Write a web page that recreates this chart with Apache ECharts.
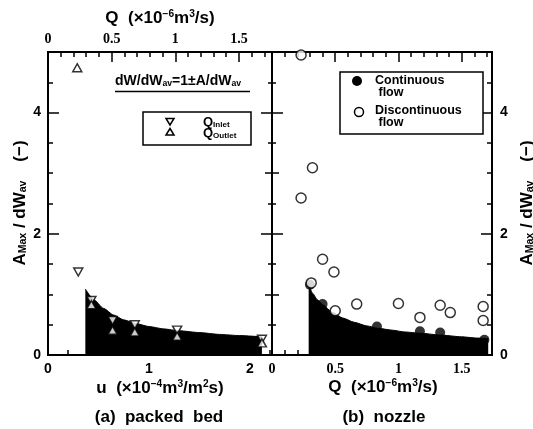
<!DOCTYPE html>
<html>
<head>
<meta charset="utf-8">
<script src="https://cdn.jsdelivr.net/npm/echarts@6/dist/echarts.min.js"></script>
<style>
html, body {margin: 0; padding: 0; background: #fff;}
#chart {width: 533px; height: 429px;}
</style>
</head>
<body>
<div id="chart"></div>
<script>
// (a) packed bed : u (x10^-4 m3/m2s) vs A_Max/dW_av
let uInlet = [0.30, 0.43, 0.64, 0.86, 1.28, 2.12];
let aInlet = [1.37, 0.90, 0.57, 0.50, 0.41, 0.26];
let uOutlet = [0.29, 0.43, 0.64, 0.86, 1.28, 2.12];
let aOutlet = [4.74, 0.83, 0.41, 0.38, 0.31, 0.20];
// black band (a), read along its upper edge
let uBand = [0.37, 0.45, 0.55, 0.65, 0.75, 0.87, 1.00, 1.15, 1.30, 1.50, 1.70, 1.90, 2.12];
let aBandA = [1.09, 0.92, 0.77, 0.66, 0.58, 0.52, 0.47, 0.43, 0.40, 0.37, 0.34, 0.32, 0.30];

// (b) nozzle : Q (x10^-6 m3/s) vs A_Max/dW_av
let qCont = [0.30, 0.40, 0.83, 1.17, 1.33, 1.68];
let aCont = [1.16, 0.84, 0.47, 0.39, 0.37, 0.25];
let qDisc = [0.23, 0.32, 0.23, 0.40, 0.49, 0.31, 0.50, 0.67, 1.00, 1.17, 1.33, 1.41, 1.67, 1.67];
let aDisc = [4.95, 3.09, 2.59, 1.58, 1.37, 1.19, 0.73, 0.84, 0.85, 0.62, 0.82, 0.70, 0.80, 0.57];
// black band (b)
let qBand = [0.29, 0.32, 0.36, 0.40, 0.48, 0.56, 0.65, 0.75, 0.84, 0.95, 1.05, 1.17, 1.33, 1.50, 1.62, 1.71];
let aBandB = [1.18, 1.02, 0.91, 0.83, 0.70, 0.61, 0.54, 0.48, 0.44, 0.41, 0.38, 0.36, 0.33, 0.30, 0.28, 0.27];

// tick labels
let uLabels = [0, 1, 2];
let qLabels = [0, 0.5, 1, 1.5];
let aLabels = [0, 2, 4];

let SANS = '"Liberation Sans", Arial, sans-serif';
let SERIF = '"Liberation Serif", "Times New Roman", serif';

let pairs = function (xs, ys) {
    return xs.map(function (x, i) { return [x, ys[i]]; });
};

// only print the values listed in "labels"
let pick = function (labels) {
    return function (v) {
        for (let i = 0; i < labels.length; i++) {
            if (Math.abs(v - labels[i]) < 1e-6) return String(labels[i]);
        }
        return '';
    };
};

let axis = function (grid, pos, max, step, len, labels, font, margin) {
    let a = {
        type: 'value', gridIndex: grid, position: pos,
        min: 0, max: max, interval: step,
        axisLine: {show: true, onZero: false, lineStyle: {color: '#000', width: 2}},
        axisTick: {show: true, inside: true, length: len, lineStyle: {color: '#000', width: 1.5}},
        splitLine: {show: false},
        axisLabel: {show: false}
    };
    if (labels) {
        a.axisLabel = {
            show: true, color: '#000', fontFamily: font, fontWeight: 'bold', fontSize: 14,
            margin: margin, showMaxLabel: false, formatter: pick(labels)
        };
    }
    return a;
};

let xAxes = [
    axis(0, 'bottom', 2.22, 1, 8, uLabels, SANS, 7),      // 0 u
    axis(0, 'bottom', 2.22, 0.2, 5),                       // 1
    axis(0, 'top', 1.76, 0.5, 10, qLabels, SERIF, 6),      // 2 Q top
    axis(0, 'top', 1.76, 0.1, 5),                          // 3
    axis(1, 'bottom', 1.74, 0.5, 8, qLabels, SERIF, 7),    // 4 Q
    axis(1, 'bottom', 1.74, 0.1, 5),                       // 5
    axis(1, 'top', 1.74, 0.5, 10),                         // 6
    axis(1, 'top', 1.74, 0.1, 5)                           // 7
];

let yAxes = [
    axis(0, 'left', 5, 2, 11, aLabels, SANS, 7),           // 0
    axis(0, 'left', 5, 0.5, 5),                            // 1
    axis(0, 'right', 5, 2, 11),                            // 2
    axis(0, 'right', 5, 1, 7),                             // 3
    axis(0, 'right', 5, 0.5, 4),                           // 4
    axis(1, 'left', 5, 2, 11),                             // 5
    axis(1, 'left', 5, 1, 7),                              // 6
    axis(1, 'left', 5, 0.5, 4),                            // 7
    axis(1, 'right', 5, 2, 11, aLabels, SANS, 8),          // 8
    axis(1, 'right', 5, 0.5, 5)                            // 9
];

let hollow = {color: '#fff', borderColor: '#000', borderWidth: 1.5};
let downTri = 'path://M0,0L10,0L5,9Z';

let band = function (xi, yi, data) {
    return {
        type: 'line', xAxisIndex: xi, yAxisIndex: yi, data: data,
        symbol: 'none', smooth: 0.2, smoothMonotone: 'x', z: 1,
        lineStyle: {color: '#000', width: 1},
        areaStyle: {color: '#000', opacity: 1}
    };
};

let t = function (x, y, text, size, extra) {
    let el = {
        type: 'text', x: x, y: y, z: 100,
        style: {
            text: text, fill: '#000', align: 'center', verticalAlign: 'middle',
            fontFamily: SANS, fontWeight: 'bold', fontSize: size,
            rich: {
                t: {fontFamily: SANS, fontWeight: 'bold', fontSize: size, fill: '#000'},
                sup: {fontFamily: SANS, fontWeight: 'bold', fontSize: size * 0.6, fill: '#000', verticalAlign: 'top'},
                sub: {fontFamily: SANS, fontWeight: 'bold', fontSize: size * 0.62, fill: '#000', verticalAlign: 'bottom'}
            }
        }
    };
    if (extra) Object.assign(el.style, extra);
    return el;
};

let qUnit = '{t|Q  (×10}{sup|−6}{t|m}{sup|3}{t|/s)}';
let yTitle = '{t|A}{sub|Max}{t| / dW}{sub|av}{t|    (−)}';
let edge = {fill: '#fff', stroke: '#000', lineWidth: 1.5};

let graphics = [
    t(160, 18, qUnit, 17),
    t(160, 388, '{t|u  (×10}{sup|−4}{t|m}{sup|3}{t|/m}{sup|2}{t|s)}', 17),
    t(159, 417, '(a)  packed  bed', 17),
    t(383, 387, qUnit, 17),
    t(384, 417, '(b)  nozzle', 17),
    Object.assign(t(20, 203, yTitle, 17), {rotation: Math.PI / 2}),
    Object.assign(t(527, 203, yTitle, 17), {rotation: Math.PI / 2}),
    // annotation
    t(115, 81, '{t|dW/dW}{sub|av}{t|=1±A/dW}{sub|av}', 14, {align: 'left'}),
    {type: 'line', z: 100, shape: {x1: 115, y1: 91.5, x2: 250, y2: 91.5}, style: {stroke: '#000', lineWidth: 1.5}},
    // legend (a)
    {type: 'rect', z: 99, shape: {x: 143, y: 112, width: 108, height: 33}, style: edge},
    {type: 'polygon', z: 100, shape: {points: [[166, 118.5], [174, 118.5], [170, 125]]}, style: edge},
    {type: 'polygon', z: 100, shape: {points: [[170, 128.5], [174, 135], [166, 135]]}, style: edge},
    t(203, 122, '{t|Q}{sub|Inlet}', 13, {align: 'left'}),
    t(203, 133, '{t|Q}{sub|Outlet}', 13, {align: 'left'}),
    // legend (b)
    {type: 'rect', z: 99, shape: {x: 340, y: 72, width: 143, height: 62}, style: edge},
    {type: 'circle', z: 100, shape: {cx: 357, cy: 81, r: 5}, style: {fill: '#000'}},
    {type: 'circle', z: 100, shape: {cx: 359, cy: 112, r: 4.5}, style: edge},
    t(375, 87, 'Continuous\n flow', 12.5, {align: 'left', lineHeight: 12}),
    t(375, 117, 'Discontinuous\n flow', 12.5, {align: 'left', lineHeight: 12})
];

let chart = echarts.init(document.getElementById('chart'), null, {renderer: 'canvas'});
chart.setOption({
    backgroundColor: '#fff',
    animation: false,
    grid: [
        {left: 48, right: 261, top: 52, bottom: 74},
        {left: 272, right: 41, top: 52, bottom: 74}
    ],
    xAxis: xAxes,
    yAxis: yAxes,
    series: [
        band(0, 0, pairs(uBand, aBandA)),
        {type: 'scatter', name: 'Q Inlet', xAxisIndex: 0, yAxisIndex: 0, z: 3,
            symbol: downTri, symbolSize: [9, 8], itemStyle: hollow, data: pairs(uInlet, aInlet)},
        {type: 'scatter', name: 'Q Outlet', xAxisIndex: 0, yAxisIndex: 0, z: 3,
            symbol: 'triangle', symbolSize: [9, 8], itemStyle: hollow, data: pairs(uOutlet, aOutlet)},
        band(4, 8, pairs(qBand, aBandB)),
        {type: 'scatter', name: 'Continuous flow', xAxisIndex: 4, yAxisIndex: 8, z: 3,
            symbol: 'circle', symbolSize: 10, itemStyle: {color: '#000'}, data: pairs(qCont, aCont)},
        {type: 'scatter', name: 'Discontinuous flow', xAxisIndex: 4, yAxisIndex: 8, z: 3,
            symbol: 'circle', symbolSize: 10, itemStyle: hollow, data: pairs(qDisc, aDisc)}
    ],
    graphic: graphics
});
</script>
</body>
</html>
